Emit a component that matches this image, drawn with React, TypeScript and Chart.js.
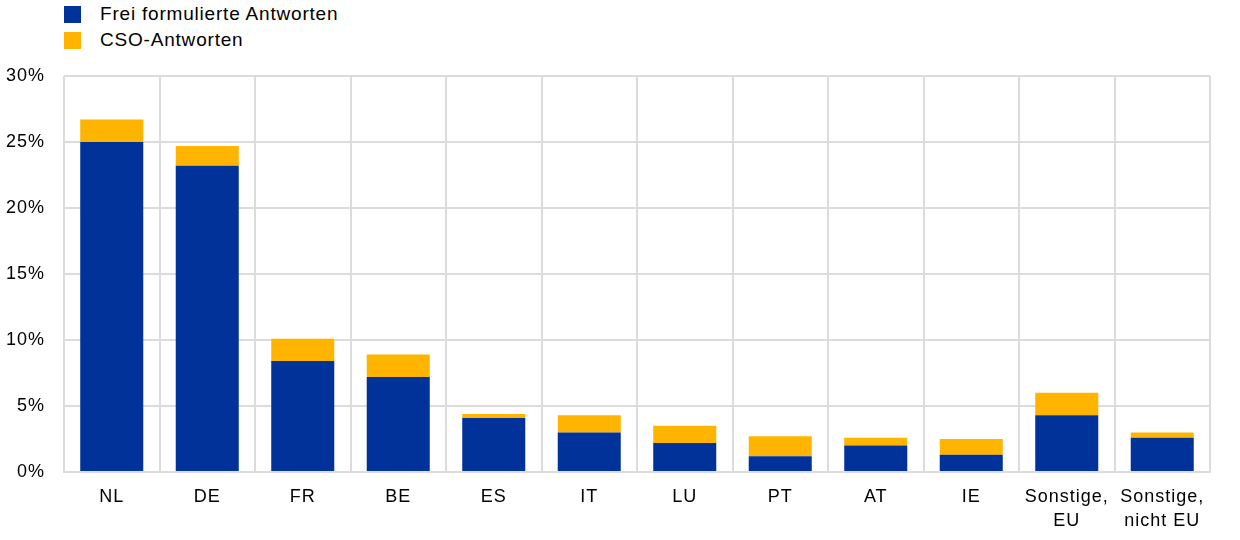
import React, { useEffect, useRef } from "react";
import { Chart, registerables } from "chart.js";

Chart.register(...registerables);

const categories: (string | string[])[] = [
  "NL", "DE", "FR", "BE", "ES", "IT", "LU", "PT", "AT", "IE",
  ["Sonstige,", "EU"], ["Sonstige,", "nicht EU"],
];
const freiValues = [25.0, 23.2, 8.4, 7.2, 4.1, 3.0, 2.2, 1.2, 2.0, 1.3, 4.3, 2.6];
const csoValues = [1.7, 1.5, 1.7, 1.7, 0.3, 1.3, 1.3, 1.5, 0.6, 1.2, 1.7, 0.4];
const seriesNames = ["Frei formulierte Antworten", "CSO-Antworten"];
const seriesColors = ["#003299", "#FFB400"];
const yTicks = [0, 5, 10, 15, 20, 25, 30];

const FONT = "'Liberation Sans', Arial, sans-serif";

const spacingPlugin = {
  id: "letterSpacing",
  beforeDraw(chart: any) {
    (chart.ctx as any).letterSpacing = "1px";
  },
};

export default function App() {
  const ref = useRef<HTMLCanvasElement | null>(null);
  useEffect(() => {
    if (!ref.current) return;
    const chart = new Chart(ref.current, {
      type: "bar",
      data: {
        labels: categories,
        datasets: [
          { label: seriesNames[0], data: freiValues, backgroundColor: seriesColors[0], barPercentage: 0.66, categoryPercentage: 1 },
          { label: seriesNames[1], data: csoValues, backgroundColor: seriesColors[1], barPercentage: 0.66, categoryPercentage: 1 },
        ],
      },
      plugins: [spacingPlugin],
      options: {
        animation: false,
        responsive: false,
        maintainAspectRatio: false,
        layout: { padding: { top: 76, right: 30, left: 0, bottom: 0 } },
        plugins: { legend: { display: false }, tooltip: { enabled: false } },
        scales: {
          x: {
            stacked: true,
            grid: { color: "#dcdcdc", lineWidth: 2, offset: true, drawTicks: false },
            border: { color: "#dcdcdc", width: 2 },
            ticks: { color: "#000", font: { family: FONT, size: 18, lineHeight: 1.33 }, padding: 13, maxRotation: 0, autoSkip: false },
            afterFit: (s: any) => { s.height = 68; },
          },
          y: {
            stacked: true,
            min: 0,
            max: 30,
            afterBuildTicks: (s: any) => { s.ticks = yTicks.map((v) => ({ value: v })); },
            grid: { color: "#dcdcdc", lineWidth: 2, drawTicks: false },
            border: { display: false },
            ticks: {
              color: "#000",
              font: { family: FONT, size: 18 },
              padding: 19,
              callback: (v: any) => `${v}%`,
            },
            afterFit: (s: any) => { s.width = 64; },
          },
        },
      },
    });
    return () => chart.destroy();
  }, []);

  const legendItem = (i: number, top: number) => (
    <div style={{ position: "absolute", left: 64, top, display: "flex", alignItems: "center", height: 20 }}>
      <div style={{ width: 17, height: 17, background: seriesColors[i], marginRight: 19 }} />
      <span style={{ fontFamily: FONT, fontSize: 19, letterSpacing: "0.8px", color: "#000", whiteSpace: "nowrap" }}>{seriesNames[i]}</span>
    </div>
  );

  return (
    <div style={{ position: "fixed", left: 0, top: 0, width: 1240, height: 540, background: "#fff" }}>
      {legendItem(0, 4)}
      {legendItem(1, 30)}
      <canvas ref={ref} width={1240} height={540} style={{ position: "absolute", left: 0, top: 0 }} />
    </div>
  );
}
